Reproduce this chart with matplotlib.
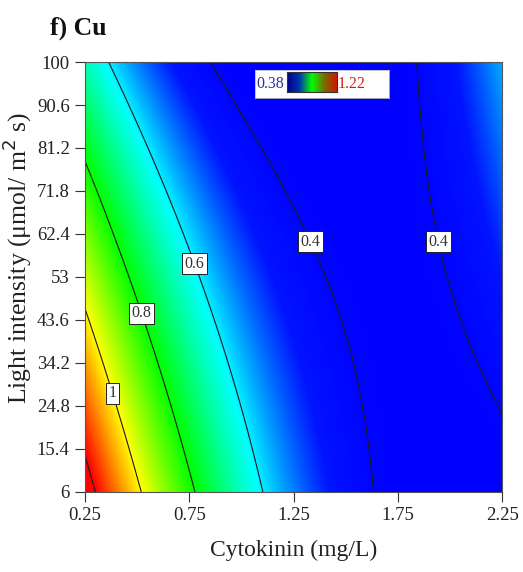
import numpy as np
import matplotlib
matplotlib.use("Agg")
import matplotlib.pyplot as plt
from matplotlib.colors import LinearSegmentedColormap

plt.rcParams['font.family'] = ['Liberation Serif', 'DejaVu Serif']

# Fitted quadratic response surface for Cu:
# Cu = b0 + b1*C + b2*L + b11*C^2 + b22*L^2 + b12*C*L
b0, b1, b2 = 1.5595, -1.162, -0.007245
b11, b22, b12 = 0.278, 0.0, 0.00414

x_ticks = [0.25, 0.75, 1.25, 1.75, 2.25]
y_ticks = [6, 15.4, 24.8, 34.2, 43.6, 53, 62.4, 71.8, 81.2, 90.6, 100]
y_tick_labels = ['6', '15.4', '24.8', '34.2', '43.6', '53', '62.4', '71.8', '81.2', '90.6', '100']
contour_levels = [0.4, 0.6, 0.8, 1.0, 1.2]
z_min, z_max = 0.38, 1.22

# where the contour values are written
label_spots = [(1.367, 61.5), (1.938, 60.6), (0.78, 56.0), (0.538, 45.3), (0.403, 27.9)]

cyt = np.linspace(0.25, 2.25, 400)
light = np.linspace(6, 100, 400)
C, L = np.meshgrid(cyt, light)
Z = b0 + b1 * C + b2 * L + b11 * C ** 2 + b22 * L ** 2 + b12 * C * L

nodes = [0.38, 0.46, 0.61, 0.8, 1.0, 1.2, 1.22]
cols = ['#0000ff', '#0014ff', '#00ffff', '#00ff00', '#ffff00', '#ff0000', '#ff0000']
surf_cmap = LinearSegmentedColormap.from_list(
    'surf', [((v - z_min) / (z_max - z_min), c) for v, c in zip(nodes, cols)])

fig = plt.figure(figsize=(5.23, 5.72), dpi=100)
ax = fig.add_axes([0.1625, 0.1399, 0.7975, 0.7517])

ax.imshow(Z, origin='lower', extent=[0.25, 2.25, 6, 100], aspect='auto',
          cmap=surf_cmap, vmin=z_min, vmax=z_max, interpolation='bilinear')
cs = ax.contour(C, L, Z, levels=contour_levels, colors='#1a1a1a', linewidths=0.8)
labels = ax.clabel(cs, [0.4, 0.6, 0.8, 1.0], inline=False, fontsize=11.5,
                   fmt=lambda v: f'{v:g}', manual=label_spots)
for t in labels:
    t.set_rotation(0)
    t.set_color('#333333')
    t.set_bbox(dict(facecolor='white', edgecolor='#222222', linewidth=0.7, pad=1.8))

ax.set_xlim(0.25, 2.25)
ax.set_ylim(6, 100)
ax.set_xticks(x_ticks)
ax.set_xticklabels([f'{v:g}' for v in x_ticks])
ax.set_yticks(y_ticks)
ax.set_yticklabels(y_tick_labels)
ax.tick_params(direction='out', length=7, width=0.8, labelsize=13.5, colors='#333333',
               labelcolor='#222222', pad=4)
for sp in ax.spines.values():
    sp.set_color('#555555')
    sp.set_linewidth(0.8)

ax.set_xlabel('Cytokinin (mg/L)', fontsize=17, color='#222222', labelpad=11)
ax.set_ylabel('Light intensity (μmol/ m$^2$ s)', fontsize=18.5, color='#222222')
ax.yaxis.set_label_coords(-0.122, 0.545)

fig.text(0.096, 0.951, 'f) Cu', fontsize=18.5, fontweight='bold', va='center', ha='left',
         color='#111111')

# small colour key in the top of the plot
key = fig.add_axes([0.4876, 0.8287, 0.256, 0.049])
key.set_xticks([])
key.set_yticks([])
key.set_facecolor('white')
for sp in key.spines.values():
    sp.set_color('#bbbbbb')
    sp.set_linewidth(0.6)
key_cmap = LinearSegmentedColormap.from_list(
    'key', ['#00008b', '#0035b0', '#00ff00', '#7a6a00', '#d01800'])
bar = fig.add_axes([0.5488, 0.839, 0.0956, 0.035])
bar.imshow(np.linspace(0, 1, 256)[None, :], aspect='auto', cmap=key_cmap)
bar.set_xticks([])
bar.set_yticks([])
for sp in bar.spines.values():
    sp.set_color('#333333')
    sp.set_linewidth(0.8)
fig.text(0.516, 0.853, f'{z_min:.2f}', fontsize=11.5, color='#3030a0', ha='center', va='center')
fig.text(0.673, 0.853, f'{z_max:.2f}', fontsize=11.5, color='#cc2020', ha='center', va='center')

fig.savefig('out.png', dpi=100)
